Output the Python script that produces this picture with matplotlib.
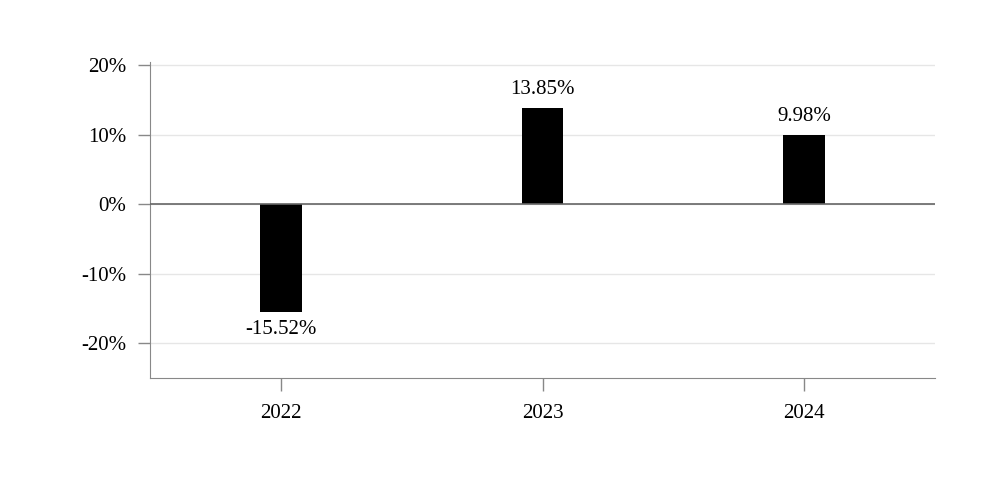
import matplotlib
matplotlib.use("Agg")
import matplotlib.pyplot as plt
from matplotlib.ticker import FuncFormatter

years = ["2022", "2023", "2024"]
returns = [-15.52, 13.85, 9.98]
yticks = [-20, -10, 0, 10, 20]

plt.rcParams["font.family"] = "Liberation Serif"
fig = plt.figure(figsize=(10, 4.9), dpi=100)
ax = fig.add_axes([0.15, 0.229, 0.785, 0.644])
x = range(len(years))
ax.bar(x, returns, width=0.16, color="black", zorder=3)
for i, v in zip(x, returns):
    off = 1.2 if v >= 0 else -1.2
    ax.text(i, v + off, f"{v:.2f}%", ha="center", va="bottom" if v >= 0 else "top", fontsize=15)
ax.set_xlim(-0.5, 2.5)
ax.set_ylim(-25, 20.4)
ax.set_yticks(yticks)
ax.yaxis.set_major_formatter(FuncFormatter(lambda v, p: f"{v:.0f}%"))
ax.set_xticks(list(x))
ax.set_xticklabels(years)
ax.tick_params(labelsize=15, color="#888888", length=9, width=1)
ax.tick_params(axis="x", pad=10)
ax.tick_params(axis="y", pad=8)
ax.grid(axis="y", color="#e6e6e6", linewidth=1, zorder=0)
ax.axhline(0, color="#666666", linewidth=1.2, zorder=4)
for s in ["top", "right"]:
    ax.spines[s].set_visible(False)
for s in ["left", "bottom"]:
    ax.spines[s].set_color("#888888")
fig.savefig("out.png")
